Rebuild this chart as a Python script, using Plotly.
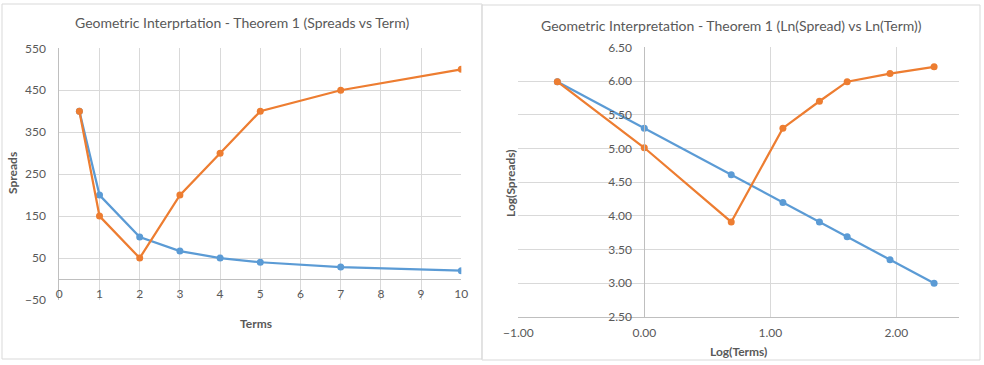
import plotly.graph_objects as go

# Data
terms = [0.5, 1, 2, 3, 4, 5, 7, 10]
spreads_a = [400, 200, 100, 66.7, 50, 40, 28.6, 20]
spreads_b = [400, 150, 50, 200, 300, 400, 450, 500]

log_terms = [-0.69, 0.0, 0.69, 1.10, 1.39, 1.61, 1.95, 2.30]
log_spreads_a = [5.99, 5.30, 4.61, 4.20, 3.91, 3.69, 3.35, 3.00]
log_spreads_b = [5.99, 5.01, 3.91, 5.30, 5.70, 5.99, 6.11, 6.21]

BLUE = '#5B9BD5'
ORANGE = '#ED7D31'
GRID = '#D9D9D9'
AXIS = '#BFBFBF'
TEXT = '#595959'
FONT = 'Lato, Open Sans, sans-serif'

W, H = 984, 365

def fx(px):
    return px / W

def fy(py):
    return 1 - py / H

fig = go.Figure()

for xs, ys, color, xa, ya in [
    (terms, spreads_a, BLUE, 'x', 'y'),
    (terms, spreads_b, ORANGE, 'x', 'y'),
    (log_terms, log_spreads_a, BLUE, 'x2', 'y2'),
    (log_terms, log_spreads_b, ORANGE, 'x2', 'y2'),
]:
    fig.add_trace(go.Scatter(
        x=xs, y=ys, mode='lines+markers',
        line=dict(color=color, width=2.25),
        marker=dict(color=color, size=7),
        xaxis=xa, yaxis=ya, showlegend=False,
    ))

tickfont = dict(family=FONT, size=12, color=TEXT)

# left chart: x axis crosses y at 0
ydom1 = [fy(300), fy(48.3)]
x_pos1 = ydom1[0] + (50 / 600) * (ydom1[1] - ydom1[0])
# right chart: y axis crosses x at 0
xdom2 = [fx(518.3), fx(959.3)]
y_pos2 = xdom2[0] + (1 / 3.5) * (xdom2[1] - xdom2[0])

fig.update_layout(
    template='none',
    width=W, height=H, autosize=False,
    margin=dict(l=0, r=0, t=0, b=0, pad=0),
    paper_bgcolor='white', plot_bgcolor='white',
    font=dict(family=FONT, color=TEXT),
    xaxis=dict(
        domain=[fx(59.3), fx(461.3)], range=[0, 10], tick0=0, dtick=1,
        anchor='free', position=x_pos1, automargin=False,
        showgrid=True, gridcolor=GRID, gridwidth=1, zeroline=False,
        showline=False, ticks='', tickfont=tickfont, ticklabelstandoff=6,
    ),
    yaxis=dict(
        domain=ydom1, range=[-50, 550], tick0=-50, dtick=100,
        anchor='x', automargin=False, showgrid=True, gridcolor=GRID, gridwidth=1,
        zeroline=True, zerolinecolor=AXIS, zerolinewidth=1,
        showline=True, linecolor=AXIS, linewidth=1,
        ticks='', tickfont=tickfont, ticklabelstandoff=10,
    ),
    xaxis2=dict(
        domain=xdom2, range=[-1, 2.5], tick0=-1, dtick=1, tickformat='.2f',
        anchor='y2', automargin=False, showgrid=True, gridcolor=GRID, gridwidth=1,
        zeroline=False, showline=True, linecolor=AXIS, linewidth=1,
        ticks='', tickfont=tickfont, ticklabelstandoff=5,
    ),
    yaxis2=dict(
        domain=[fy(317), fy(47.3)], range=[2.5, 6.5], tick0=2.5, dtick=0.5,
        tickformat='.2f', anchor='free', position=y_pos2, automargin=False,
        showgrid=True, gridcolor=GRID, gridwidth=1, zeroline=False,
        showline=True, linecolor=AXIS, linewidth=1,
        ticks='', tickfont=tickfont, ticklabelstandoff=10,
    ),
)

# chart frames
fig.add_shape(type='rect', xref='paper', yref='paper',
              x0=fx(2), x1=fx(482), y0=fy(359), y1=fy(4),
              line=dict(color=GRID, width=1))
fig.add_shape(type='rect', xref='paper', yref='paper',
              x0=fx(482), x1=fx(980), y0=fy(360), y1=fy(5),
              line=dict(color=GRID, width=1))

# titles
titlefont = dict(family=FONT, size=14, color=TEXT)
labelfont = dict(family=FONT, size=12, color=TEXT, weight='bold')
for text, x, y, font, angle in [
    ('Geometric Interprtation - Theorem 1 (Spreads vs Term)', 242, 23, titlefont, 0),
    ('Geometric Interpretation - Theorem 1 (Ln(Spread) vs Ln(Term))', 731, 25, titlefont, 0),
    ('Terms', 256, 323, labelfont, 0),
    ('Spreads', 13, 173, labelfont, -90),
    ('Log(Terms)', 738, 351, labelfont, 0),
    ('Log(Spreads)', 510, 183, labelfont, -90),
]:
    fig.add_annotation(text=text, x=fx(x), y=fy(y), xref='paper', yref='paper',
                       showarrow=False, font=font, textangle=angle,
                       xanchor='center', yanchor='middle')

# page body has a default margin; remove it so the figure fills the window
fig.write_html("out.html", config={'displayModeBar': False},
               post_script="document.body.style.margin='0';")
